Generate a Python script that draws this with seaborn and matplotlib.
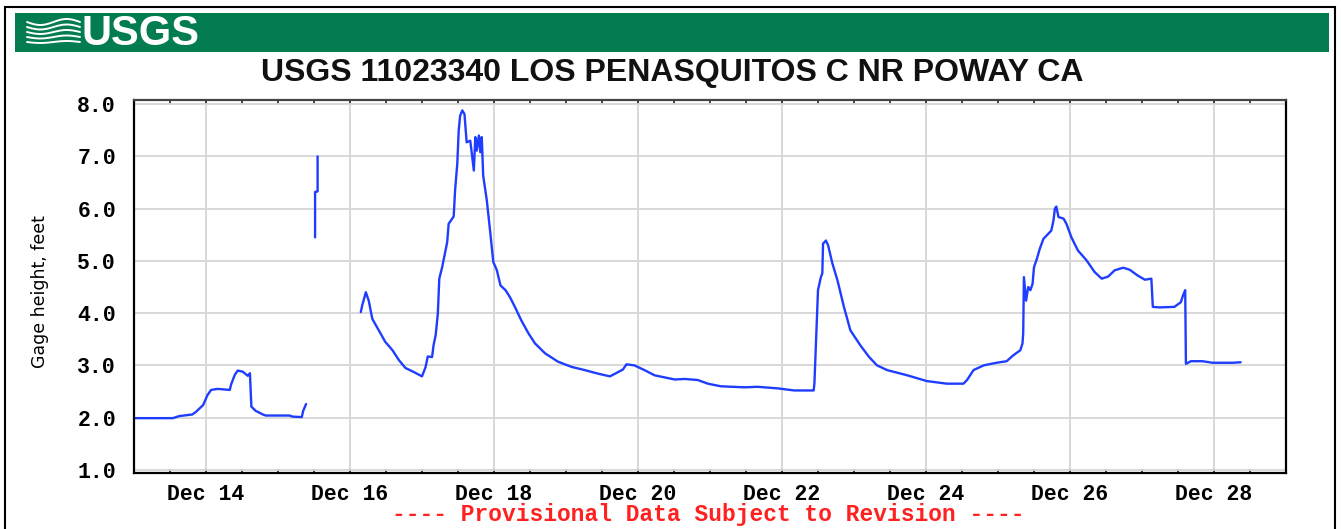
import numpy as np
import pandas as pd
import matplotlib.pyplot as plt
import matplotlib.dates as mdates
import seaborn as sns
from matplotlib.patches import Rectangle
from matplotlib.lines import Line2D

# Gage height readings (day of December, feet), three recorded stretches
seg1_day = [13.0, 13.54, 13.63, 13.81, 13.86, 13.96, 14.02, 14.07, 14.16, 14.33,
            14.35, 14.40, 14.44, 14.51, 14.58, 14.61, 14.63, 14.69, 14.79, 14.83,
            15.16, 15.20, 15.33, 15.35, 15.39]
seg1_ft = [1.99, 1.99, 2.03, 2.06, 2.11, 2.24, 2.43, 2.53, 2.55, 2.53,
           2.64, 2.82, 2.90, 2.88, 2.80, 2.85, 2.21, 2.13, 2.06, 2.04,
           2.04, 2.02, 2.01, 2.13, 2.26]

seg2_day = [15.515, 15.515, 15.55, 15.55]
seg2_ft = [5.45, 6.32, 6.33, 7.00]

seg3_day = [16.15, 16.17, 16.22, 16.26, 16.31, 16.40, 16.49, 16.59, 16.68, 16.77,
            16.89, 17.00, 17.05, 17.08, 17.14, 17.16, 17.19, 17.22, 17.24, 17.28,
            17.31, 17.35, 17.37, 17.44, 17.46, 17.49, 17.51, 17.53, 17.56, 17.59,
            17.62, 17.67, 17.69, 17.72, 17.74, 17.76, 17.79, 17.81, 17.83, 17.85,
            17.90, 17.95, 17.99, 18.04, 18.09, 18.16, 18.22, 18.29, 18.38, 18.48,
            18.57, 18.71, 18.89, 19.08, 19.26, 19.45, 19.61, 19.72, 19.79, 19.84,
            19.95, 20.09, 20.23, 20.37, 20.51, 20.65, 20.83, 20.97, 21.15, 21.48,
            21.66, 21.94, 22.17, 22.44, 22.45, 22.47, 22.50, 22.54, 22.56, 22.57,
            22.61, 22.64, 22.70, 22.77, 22.86, 22.95, 23.09, 23.21, 23.32, 23.46,
            23.74, 24.01, 24.29, 24.52, 24.57, 24.66, 24.80, 24.98, 25.12, 25.21,
            25.31, 25.34, 25.35, 25.36, 25.39, 25.42, 25.45, 25.48, 25.50, 25.54,
            25.58, 25.63, 25.70, 25.74, 25.77, 25.79, 25.81, 25.84, 25.91, 25.95,
            26.02, 26.11, 26.23, 26.34, 26.44, 26.53, 26.62, 26.74, 26.83, 26.94,
            27.04, 27.13, 27.15, 27.24, 27.45, 27.54, 27.57, 27.60, 27.61, 27.68,
            27.84, 27.98, 28.26, 28.37]
seg3_ft = [4.02, 4.15, 4.40, 4.24, 3.89, 3.67, 3.45, 3.29, 3.10, 2.95,
           2.87, 2.79, 2.97, 3.17, 3.16, 3.38, 3.58, 3.99, 4.66, 4.88,
           5.09, 5.36, 5.71, 5.85, 6.36, 6.86, 7.50, 7.78, 7.88, 7.81,
           7.27, 7.30, 7.08, 6.73, 7.37, 7.11, 7.40, 7.08, 7.37, 6.63,
           6.16, 5.52, 4.98, 4.82, 4.53, 4.44, 4.31, 4.12, 3.86, 3.61,
           3.42, 3.23, 3.07, 2.97, 2.91, 2.84, 2.79, 2.87, 2.92, 3.02,
           3.00, 2.91, 2.81, 2.77, 2.73, 2.74, 2.72, 2.65, 2.60, 2.58,
           2.59, 2.56, 2.52, 2.52, 2.65, 3.35, 4.44, 4.69, 4.76, 5.33,
           5.39, 5.30, 4.95, 4.63, 4.12, 3.67, 3.38, 3.16, 3.00, 2.91,
           2.81, 2.70, 2.65, 2.65, 2.72, 2.91, 3.00, 3.05, 3.08, 3.19,
           3.29, 3.42, 3.61, 4.69, 4.24, 4.50, 4.44, 4.56, 4.88, 5.04,
           5.23, 5.42, 5.52, 5.58, 5.77, 6.00, 6.04, 5.84, 5.81, 5.71,
           5.45, 5.20, 5.01, 4.79, 4.66, 4.70, 4.82, 4.87, 4.83, 4.72,
           4.64, 4.66, 4.12, 4.11, 4.12, 4.21, 4.34, 4.44, 3.03, 3.08,
           3.08, 3.05, 3.05, 3.06]

y_ticks = [1, 2, 3, 4, 5, 6, 7, 8]
title = "USGS 11023340 LOS PENASQUITOS C NR POWAY CA"
footer = "---- Provisional Data Subject to Revision ----"

base = pd.Timestamp("2010-12-01")


def to_time(days):
    return base + pd.to_timedelta(np.asarray(days) - 1, unit="D")


sns.set_theme(style="whitegrid")
plt.rcParams['font.family'] = ['DejaVu Sans']

fig = plt.figure(figsize=(13.41, 5.29), dpi=100)

# outer frame and green banner
fig.patches.append(Rectangle((5 / 1341, -0.05), 1330 / 1341, (529 - 7) / 529 + 0.05,
                             transform=fig.transFigure, fill=False, ec="black", lw=1.5))
fig.patches.append(Rectangle((15 / 1341, (529 - 52) / 529), 1314 / 1341, 39 / 529,
                             transform=fig.transFigure, fc="#037d50", ec="none"))
# wave mark of the logo
for k in range(5):
    xs = np.linspace(27, 80, 30)
    ys = 22 + k * 5 + 3 * np.sin((xs - 27) / 53 * np.pi * 2) * (1 - k / 6)
    fig.lines.append(Line2D(xs / 1341, (529 - ys) / 529, transform=fig.transFigure,
                            color="white", lw=1.4))
fig.text(82 / 1341, (529 - 34) / 529, "USGS", color="white", fontsize=30,
         fontweight="heavy", family="Liberation Sans", va="center", ha="left")

fig.text(672 / 1341, (529 - 73) / 529, title, fontsize=23, fontweight="bold",
         family="Liberation Sans", ha="center", va="center", color="#111111")

ax = fig.add_axes([134 / 1341, (529 - 473) / 529, 1152 / 1341, 373 / 529])
ax.set_facecolor("white")

for d, h in [(seg1_day, seg1_ft), (seg2_day, seg2_ft), (seg3_day, seg3_ft)]:
    sns.lineplot(x=to_time(d), y=h, ax=ax, color="#1f3dff", lw=1.7,
                 sort=False, estimator=None)

ax.set_xlim(to_time([13.0])[0], to_time([29.0])[0])
ax.set_ylim(0.94, 8.08)
ax.set_yticks(y_ticks)
ax.yaxis.set_major_formatter(plt.FormatStrFormatter("%.1f"))
ax.xaxis.set_major_locator(mdates.DayLocator(bymonthday=list(range(14, 29, 2))))
ax.xaxis.set_major_formatter(mdates.DateFormatter("Dec %d"))
ax.xaxis.set_minor_locator(mdates.HourLocator(byhour=[0, 12]))

ax.grid(True, which="major", color="#d6d6d6", lw=1.3)
ax.grid(False, which="minor")
ax.tick_params(axis="x", which="both", direction="in", top=True, bottom=True,
               length=3, width=1.2, color="#222222")
ax.tick_params(axis="x", which="major", pad=8)
ax.tick_params(axis="y", which="both", length=0, pad=13)
for lab in ax.get_xticklabels() + ax.get_yticklabels():
    lab.set_family("Liberation Mono")
    lab.set_fontweight("bold")
    lab.set_fontsize(15.5)
    lab.set_color("black")

for side, sp in ax.spines.items():
    sp.set_visible(True)
    sp.set_color("black")
    sp.set_linewidth(1.6)
ax.spines["top"].set_color("#444444")

ax.set_xlabel("")
ax.set_ylabel("")
fig.text(40 / 1341, (529 - 292) / 529, "Gage height, feet", rotation=90, fontsize=12.5,
         ha="center", va="center", color="black", family="DejaVu Sans")

fig.text(708 / 1341, (529 - 514) / 529, footer, color="#ff2020", fontsize=16.5,
         fontweight="bold", family="Liberation Mono", ha="center", va="center")

fig.savefig("out.png", dpi=100)
